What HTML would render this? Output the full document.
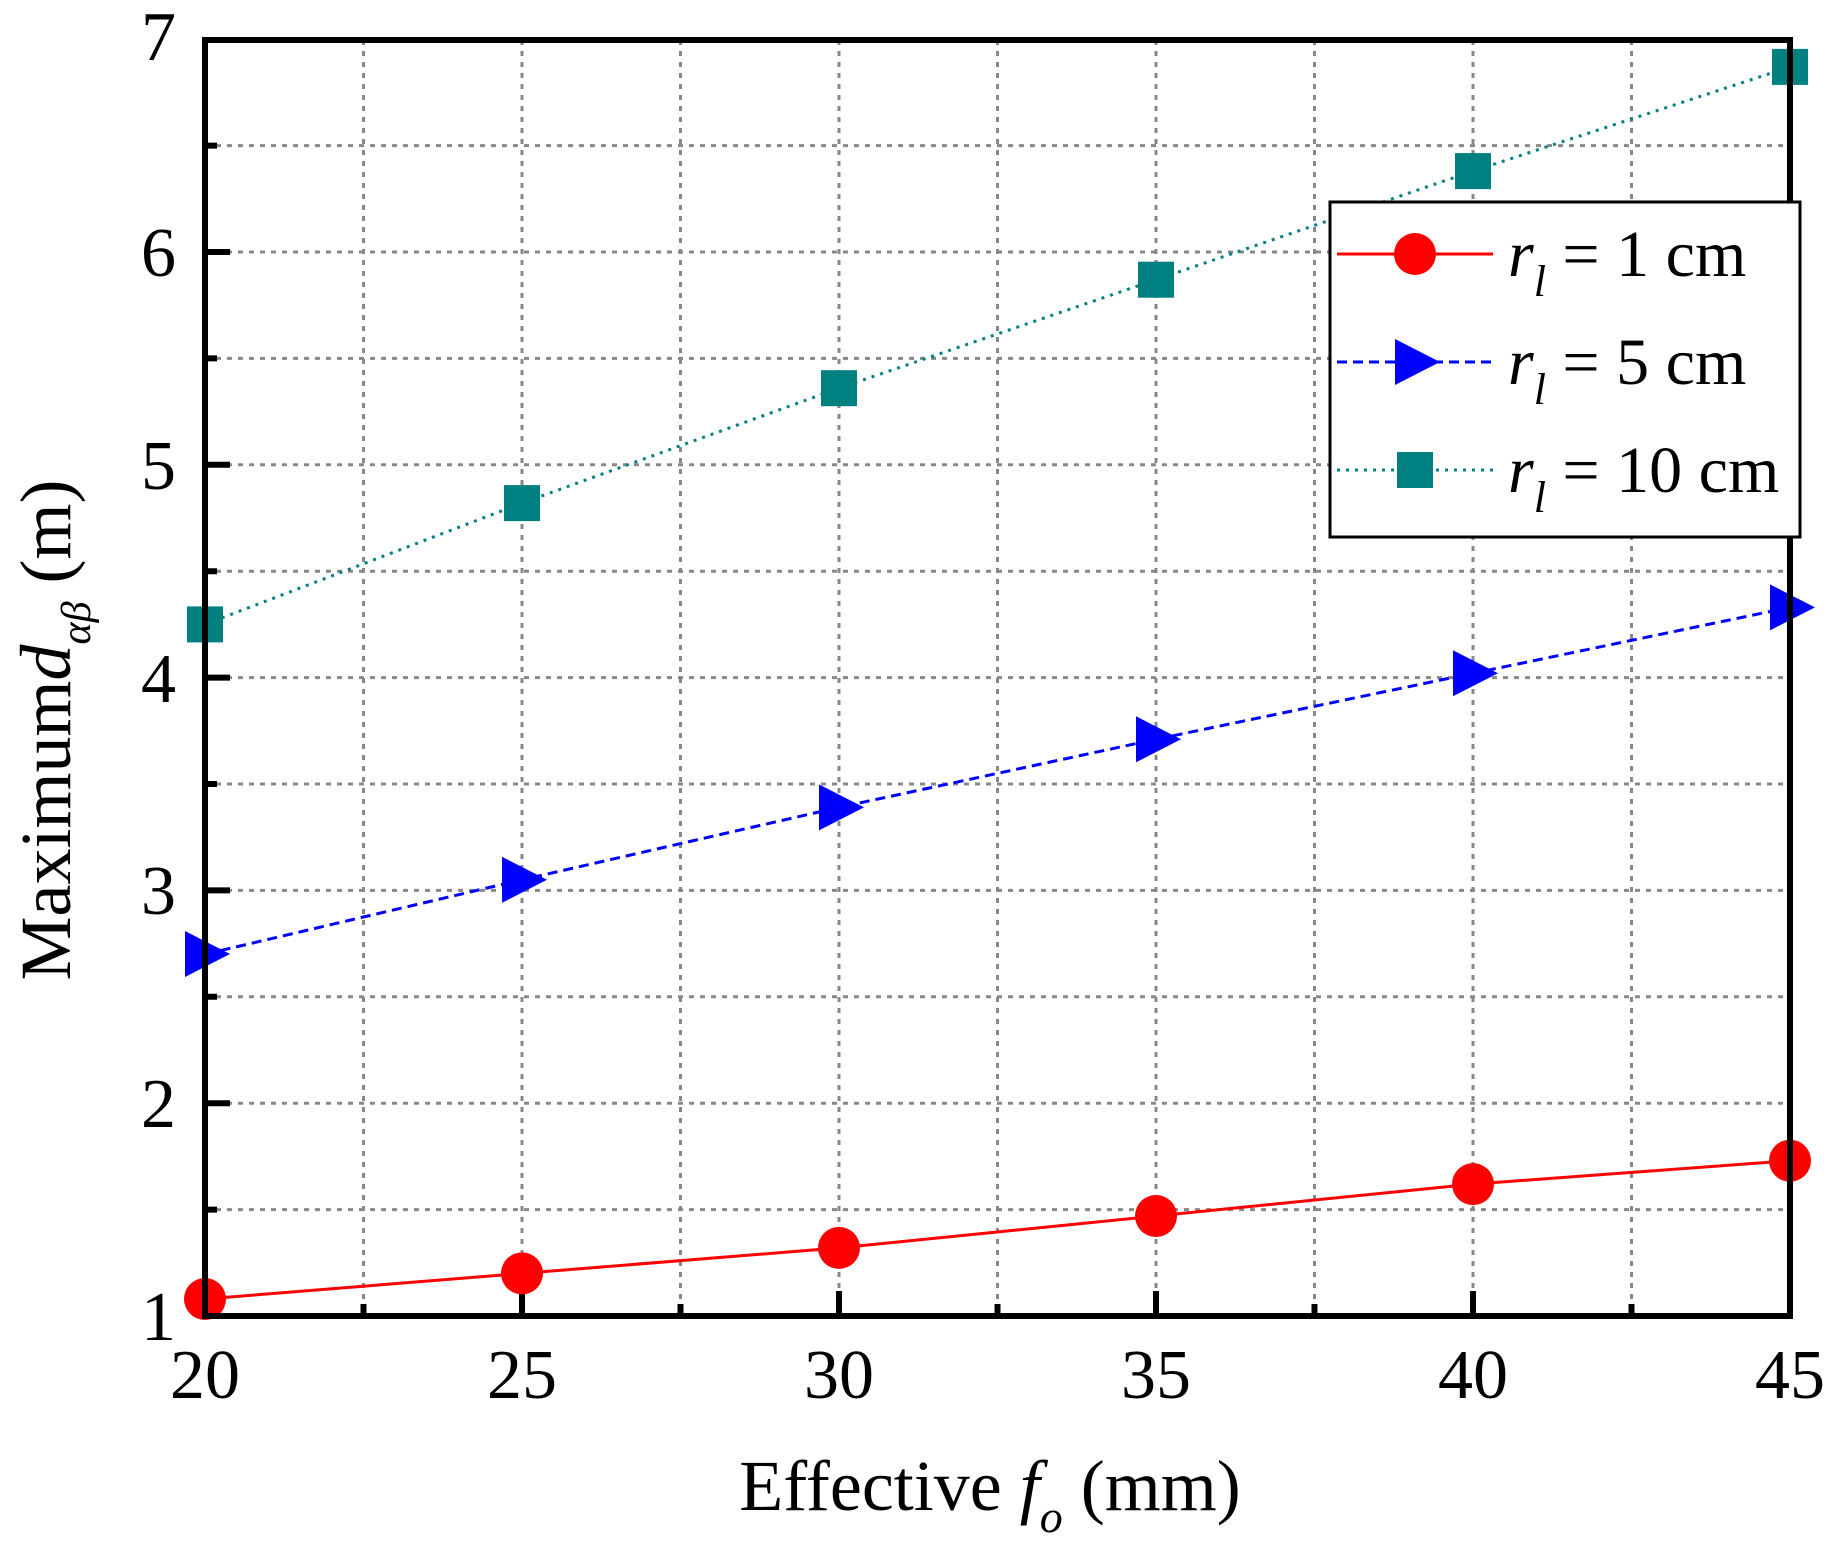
<!DOCTYPE html>
<html><head><style>body{margin:0;background:#fff}svg{display:block}</style></head><body>
<svg width="1843" height="1550" viewBox="0 0 1843 1550" xmlns="http://www.w3.org/2000/svg" font-family="Liberation Serif, serif">
<rect width="1843" height="1550" fill="#fff"/>
<g stroke="#888" stroke-width="3" stroke-dasharray="5 6">
<line x1="205" x2="1790" y1="1209.6" y2="1209.6"/><line x1="205" x2="1790" y1="1103.2" y2="1103.2"/>
<line x1="205" x2="1790" y1="996.8" y2="996.8"/><line x1="205" x2="1790" y1="890.4" y2="890.4"/>
<line x1="205" x2="1790" y1="784" y2="784"/><line x1="205" x2="1790" y1="677.6" y2="677.6"/>
<line x1="205" x2="1790" y1="571.2" y2="571.2"/><line x1="205" x2="1790" y1="464.8" y2="464.8"/>
<line x1="205" x2="1790" y1="358.4" y2="358.4"/><line x1="205" x2="1790" y1="252" y2="252"/>
<line x1="205" x2="1790" y1="145.6" y2="145.6"/>
<line y1="40" y2="1316" x1="363.5" x2="363.5"/><line y1="40" y2="1316" x1="522" x2="522"/>
<line y1="40" y2="1316" x1="680.5" x2="680.5"/><line y1="40" y2="1316" x1="839" x2="839"/>
<line y1="40" y2="1316" x1="997.5" x2="997.5"/><line y1="40" y2="1316" x1="1156" x2="1156"/>
<line y1="40" y2="1316" x1="1314.5" x2="1314.5"/><line y1="40" y2="1316" x1="1473" x2="1473"/>
<line y1="40" y2="1316" x1="1631.5" x2="1631.5"/>
</g>
<g stroke="#000" stroke-width="6">
<path d="M205 1209.6h12M205 996.8h12M205 784h12M205 571.2h12M205 358.4h12M205 145.6h12"/>
<path d="M205 1103.2h25M205 890.4h25M205 677.6h25M205 464.8h25M205 252h25"/>
<path d="M363.5 1316v-12M680.5 1316v-12M997.5 1316v-12M1314.5 1316v-12M1631.5 1316v-12"/>
<path d="M522 1316v-25M839 1316v-25M1156 1316v-25M1473 1316v-25"/>
</g>
<polyline points="205,624.4 522,503.1 839,388.2 1156,279.7 1473,171.1 1790,66.9" fill="none" stroke="#008080" stroke-width="3" stroke-dasharray="3 6"/>
<polyline points="205,954.2 522,879.8 839,807.4 1156,739.3 1473,673.3 1790,607.4" fill="none" stroke="#0000ff" stroke-width="3" stroke-dasharray="10 6"/>
<polyline points="205,1299 522,1273.4 839,1247.9 1156,1216 1473,1184.1 1790,1160.7" fill="none" stroke="#ff0000" stroke-width="3"/>
<g fill="#008080">
<rect x="187" y="606.4" width="36" height="36"/><rect x="504" y="485.1" width="36" height="36"/><rect x="821" y="370.2" width="36" height="36"/><rect x="1138" y="261.7" width="36" height="36"/><rect x="1455" y="153.1" width="36" height="36"/><rect x="1772" y="48.9" width="36" height="36"/>
</g>
<g fill="#0000ff">
<path d="M185 931v46l45-23z"/><path d="M502 856.8v46l45-23z"/><path d="M819 784.4v46l45-23z"/><path d="M1136 716.3v46l45-23z"/><path d="M1453 650.3v46l45-23z"/><path d="M1770 584.4v46l45-23z"/>
</g>
<g fill="#ff0000">
<circle cx="205" cy="1299" r="21"/><circle cx="522" cy="1273.4" r="21"/><circle cx="839" cy="1247.9" r="21"/><circle cx="1156" cy="1216" r="21"/><circle cx="1473" cy="1184.1" r="21"/><circle cx="1790" cy="1160.7" r="21"/>
</g>
<rect x="205" y="40" width="1585" height="1276" fill="none" stroke="#000" stroke-width="6"/>
<rect x="1330" y="202" width="470" height="335" fill="#fff" stroke="#000" stroke-width="3"/>
<line x1="1337" x2="1493" y1="254" y2="254" stroke="#ff0000" stroke-width="3"/>
<circle cx="1415" cy="254" r="21" fill="#ff0000"/>
<line x1="1337" x2="1493" y1="362" y2="362" stroke="#0000ff" stroke-width="3" stroke-dasharray="10 6"/>
<path d="M1395 339v46l45-23z" fill="#0000ff"/>
<line x1="1337" x2="1493" y1="470" y2="470" stroke="#008080" stroke-width="3" stroke-dasharray="3 6"/>
<rect x="1397" y="452" width="36" height="36" fill="#008080"/>
<g font-size="66" fill="#000">
<text x="1508" y="276"><tspan font-style="italic">r</tspan><tspan font-style="italic" font-size="44" dy="20">l</tspan><tspan dy="-20"> = 1 cm</tspan></text>
<text x="1508" y="384"><tspan font-style="italic">r</tspan><tspan font-style="italic" font-size="44" dy="20">l</tspan><tspan dy="-20"> = 5 cm</tspan></text>
<text x="1508" y="492"><tspan font-style="italic">r</tspan><tspan font-style="italic" font-size="44" dy="20">l</tspan><tspan dy="-20"> = 10 cm</tspan></text>
</g>
<g font-size="70" fill="#000" text-anchor="end">
<text x="176" y="1340">1</text><text x="176" y="1127">2</text><text x="176" y="914">3</text><text x="176" y="702">4</text><text x="176" y="489">5</text><text x="176" y="276">6</text><text x="176" y="60">7</text>
</g>
<g font-size="70" fill="#000" text-anchor="middle">
<text x="205" y="1398">20</text><text x="522" y="1398">25</text><text x="839" y="1398">30</text><text x="1156" y="1398">35</text><text x="1473" y="1398">40</text><text x="1790" y="1398">45</text>
</g>
<text x="990" y="1510" font-size="72" text-anchor="middle">Effective <tspan font-style="italic">f</tspan><tspan font-style="italic" font-size="46" dy="22">o</tspan><tspan dy="-22"> (mm)</tspan></text>
<text transform="translate(70,730) rotate(-90)" font-size="72" text-anchor="middle">Maximum<tspan font-style="italic">d</tspan><tspan font-style="italic" font-size="42" dy="20">αβ</tspan><tspan dy="-20"> (m)</tspan></text>
</svg>
</body></html>
